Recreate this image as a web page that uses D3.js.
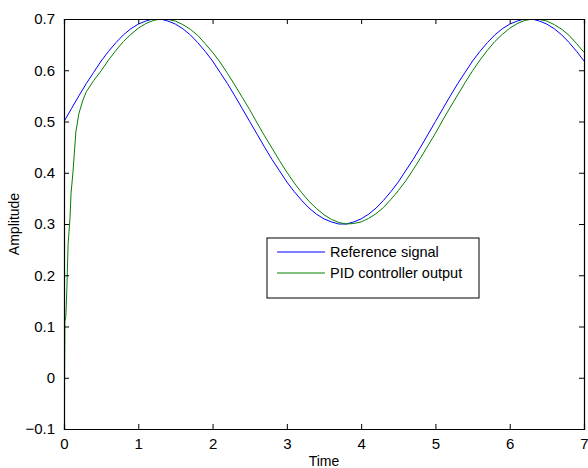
<!DOCTYPE html>
<html>
<head>
<meta charset="utf-8">
<script src="https://cdn.jsdelivr.net/npm/d3@7"></script>
<style>
  body { margin: 0; background: #fff; }
  text { font-family: "Liberation Sans", Arial, sans-serif; }
</style>
</head>
<body>
<script>
// reference signal, sampled every 0.1 s from t = 0 to 7
const refTime = d3.range(0, 71).map(i => i / 10);
const refValue = [
  0.500, 0.525, 0.550, 0.574, 0.596, 0.618, 0.637, 0.654, 0.669, 0.681,
  0.690, 0.696, 0.700, 0.700, 0.696, 0.690, 0.681, 0.669, 0.654, 0.637,
  0.618, 0.596, 0.574, 0.550, 0.525, 0.500, 0.475, 0.450, 0.426, 0.404,
  0.382, 0.363, 0.346, 0.331, 0.319, 0.310, 0.304, 0.300, 0.300, 0.304,
  0.310, 0.319, 0.331, 0.346, 0.363, 0.382, 0.404, 0.426, 0.450, 0.475,
  0.500, 0.525, 0.550, 0.574, 0.596, 0.618, 0.637, 0.654, 0.669, 0.681,
  0.690, 0.696, 0.700, 0.700, 0.696, 0.690, 0.681, 0.669, 0.654, 0.637,
  0.618
];

// PID output: fast start-up transient, then every 0.1 s from t = 0.6
const pidTime = [0.006, 0.008, 0.012, 0.025, 0.04, 0.055, 0.08, 0.095, 0.12, 0.14,
  0.16, 0.2, 0.25, 0.3, 0.4, 0.5].concat(d3.range(6, 71).map(i => i / 10));
const pidValue = [
  -0.080, 0.000, 0.110, 0.120, 0.180, 0.260, 0.310, 0.360, 0.400, 0.440,
  0.480, 0.515, 0.540, 0.558, 0.580, 0.599,
  0.620, 0.639, 0.656, 0.670, 0.682, 0.691, 0.697, 0.700, 0.699, 0.696,
  0.689, 0.680, 0.668, 0.652, 0.635, 0.616, 0.594, 0.571, 0.547, 0.523,
  0.497, 0.472, 0.448, 0.424, 0.401, 0.380, 0.361, 0.344, 0.330, 0.318,
  0.309, 0.303, 0.300, 0.301, 0.304, 0.311, 0.320, 0.332, 0.348, 0.365,
  0.384, 0.406, 0.429, 0.453, 0.477, 0.503, 0.528, 0.552, 0.576, 0.599,
  0.620, 0.639, 0.656, 0.670, 0.682, 0.691, 0.697, 0.700, 0.699, 0.696,
  0.689, 0.680, 0.668, 0.652, 0.635
];

const xTicks = [0, 1, 2, 3, 4, 5, 6, 7];
const yTicks = [-0.1, 0, 0.1, 0.2, 0.3, 0.4, 0.5, 0.6, 0.7];
const seriesNames = ["Reference signal", "PID controller output"];
const seriesColors = ["#0000ff", "#008000"];

const W = 588, H = 468;
const margin = { top: 19, right: 4, bottom: 39, left: 64 };

const svg = d3.select("body").append("svg")
  .attr("width", W)
  .attr("height", H);

const x = d3.scaleLinear().domain([0, 7]).range([margin.left, W - margin.right]);
const y = d3.scaleLinear().domain([-0.1, 0.7]).range([H - margin.bottom, margin.top]);

// clip so the curves stay inside the box
svg.append("clipPath").attr("id", "plotclip")
  .append("rect")
  .attr("x", x(0)).attr("y", y(0.7))
  .attr("width", x(7) - x(0)).attr("height", y(-0.1) - y(0.7));

const line = d3.line().x(d => x(d[0])).y(d => y(d[1]));

const plot = svg.append("g").attr("clip-path", "url(#plotclip)");
plot.append("path")
  .datum(refTime.map((t, i) => [t, refValue[i]]))
  .attr("fill", "none")
  .attr("stroke", seriesColors[0])
  .attr("stroke-width", 1)
  .attr("d", line);
plot.append("path")
  .datum(pidTime.map((t, i) => [t, pidValue[i]]))
  .attr("fill", "none")
  .attr("stroke", seriesColors[1])
  .attr("stroke-width", 1)
  .attr("d", line);

// axes, matlab style: ticks pointing in, box all round
const fmt = d => d === 0 ? "0" : d3.format(".1f")(d);
const bottomAxis = svg.append("g")
  .attr("transform", `translate(0,${y(-0.1)})`)
  .call(d3.axisBottom(x).tickValues(xTicks).tickSize(-5).tickPadding(9).tickFormat(d3.format("d")));
const leftAxis = svg.append("g")
  .attr("transform", `translate(${x(0)},0)`)
  .call(d3.axisLeft(y).tickValues(yTicks).tickSize(-5).tickPadding(9).tickFormat(fmt));
const topAxis = svg.append("g")
  .attr("transform", `translate(0,${y(0.7)})`)
  .call(d3.axisTop(x).tickValues(xTicks).tickSize(-5).tickFormat(""));
const rightAxis = svg.append("g")
  .attr("transform", `translate(${x(7)},0)`)
  .call(d3.axisRight(y).tickValues(yTicks).tickSize(-5).tickFormat(""));

[bottomAxis, leftAxis, topAxis, rightAxis].forEach(a => {
  a.select(".domain").attr("stroke", "#000").attr("stroke-width", 1.2);
  a.selectAll(".tick line").attr("stroke", "#000");
  a.selectAll(".tick text")
    .attr("fill", "#000")
    .style("font-size", "15px")
    .style("font-family", "'Liberation Sans', Arial, sans-serif");
});

svg.append("text")
  .attr("x", (x(0) + x(7)) / 2)
  .attr("y", 466)
  .attr("text-anchor", "middle")
  .style("font-size", "14px")
  .text("Time");

svg.append("text")
  .attr("transform", `translate(19,${(y(-0.1) + y(0.7)) / 2}) rotate(-90)`)
  .attr("text-anchor", "middle")
  .style("font-size", "14px")
  .text("Amplitude");

// legend
const legend = svg.append("g").attr("transform", "translate(267,238)");
legend.append("rect")
  .attr("width", 212).attr("height", 60)
  .attr("fill", "#fff").attr("stroke", "#000").attr("stroke-width", 1);
seriesNames.forEach((name, i) => {
  const ly = 14 + i * 21;
  legend.append("line")
    .attr("x1", 10).attr("x2", 58)
    .attr("y1", ly).attr("y2", ly)
    .attr("stroke", seriesColors[i]).attr("stroke-width", 1);
  legend.append("text")
    .attr("x", 63).attr("y", ly + 5)
    .style("font-size", "14.5px")
    .text(name);
});
</script>
</body>
</html>
